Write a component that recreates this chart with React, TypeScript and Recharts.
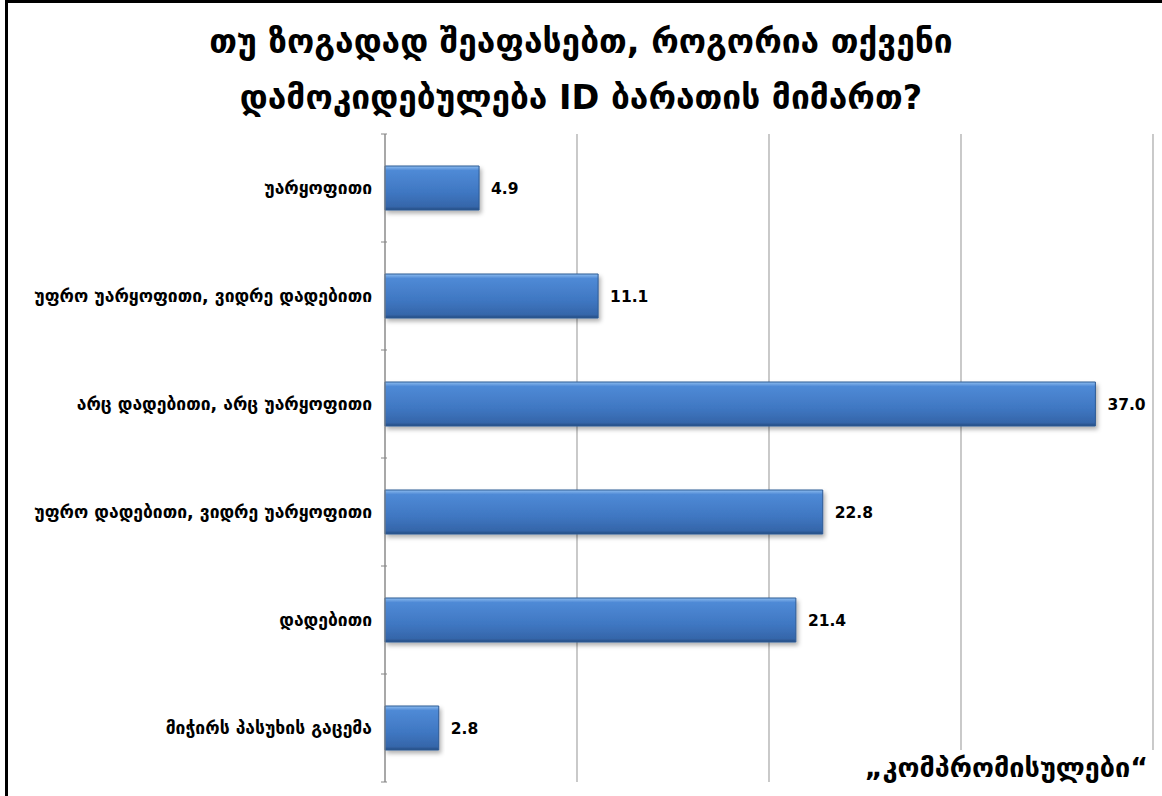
import { BarChart, Bar, XAxis, YAxis, CartesianGrid, LabelList } from 'recharts';

const categories = [
  'უარყოფითი',
  'უფრო უარყოფითი, ვიდრე დადებითი',
  'არც დადებითი, არც უარყოფითი',
  'უფრო დადებითი, ვიდრე უარყოფითი',
  'დადებითი',
  'მიჭირს პასუხის გაცემა',
];

const values = [4.9, 11.1, 37.0, 22.8, 21.4, 2.8];

const xTicks = [0, 10, 20, 30, 40];

const titleLines = [
  'თუ ზოგადად შეაფასებთ, როგორია თქვენი',
  'დამოკიდებულება ID ბარათის მიმართ?',
];

const footnote = '„კომპრომისულები“';

const FONT = '"DejaVu Sans", Verdana, sans-serif';

const chartData = categories.map((name, i) => ({ name, value: values[i] }));

// category label at band centre, tick marks on band boundaries
function CategoryTick(props: any) {
  const { x, y, payload, index } = props;
  const half = 54;
  return (
    <g>
      <line x1={x + 4} x2={x + 10} y1={y - half} y2={y - half} stroke="#868686" />
      {index === categories.length - 1 && (
        <line x1={x + 4} x2={x + 10} y1={y + half} y2={y + half} stroke="#868686" />
      )}
      <text
        x={x - 5}
        y={y}
        dy={6}
        textAnchor="end"
        fontFamily={FONT}
        fontWeight="bold"
        fontSize={17.5}
        fill="#000"
      >
        {payload.value}
      </text>
    </g>
  );
}

export default function App() {
  return (
    <div
      style={{
        position: 'absolute',
        left: 0,
        top: 0,
        width: 1162,
        height: 796,
        background: '#fff',
        overflow: 'hidden',
      }}
    >
      {/* frame */}
      <div
        style={{
          position: 'absolute',
          left: 5,
          top: 0,
          width: 1200,
          height: 900,
          borderLeft: '3px solid #000',
          borderTop: '3px solid #000',
        }}
      />
      <div
        style={{
          position: 'absolute',
          left: 0,
          top: 14,
          width: 1162,
          textAlign: 'center',
          fontFamily: FONT,
          fontWeight: 'bold',
          fontSize: 33.5,
          lineHeight: '56px',
          color: '#000',
        }}
      >
        {titleLines.map((t) => (
          <div key={t}>{t}</div>
        ))}
      </div>
      <div style={{ position: 'absolute', left: 0, top: 0 }}>
        <BarChart
          width={1162}
          height={796}
          data={chartData}
          layout="vertical"
          margin={{ top: 134, right: 9, bottom: 14, left: 0 }}
          barSize={44}
        >
          <defs>
            <linearGradient id="barGrad" x1="0" y1="0" x2="0" y2="1">
              <stop offset="0%" stopColor="#8dbcef" />
              <stop offset="10%" stopColor="#4f8ad6" />
              <stop offset="60%" stopColor="#3f77c2" />
              <stop offset="92%" stopColor="#3566aa" />
              <stop offset="100%" stopColor="#254d82" />
            </linearGradient>
            <filter id="barShadow" x="-5%" y="-20%" width="115%" height="150%">
              <feDropShadow dx="2" dy="3" stdDeviation="2" floodColor="#000" floodOpacity="0.3" />
            </filter>
          </defs>
          <CartesianGrid horizontal={false} stroke="#a6a6a6" strokeWidth={1.2} />
          <XAxis type="number" domain={[0, 40]} ticks={xTicks} hide />
          <YAxis
            type="category"
            dataKey="name"
            width={385}
            axisLine={{ stroke: '#868686' }}
            tickLine={false}
            tick={<CategoryTick />}
            interval={0}
          />
          <Bar
            dataKey="value"
            fill="url(#barGrad)"
            stroke="#2d5a94"
            strokeWidth={1}
            filter="url(#barShadow)"
            isAnimationActive={false}
          >
            <LabelList
              dataKey="value"
              position="right"
              offset={12}
              formatter={(v: any) => Number(v).toFixed(1)}
              style={{ fontFamily: FONT, fontWeight: 'bold', fontSize: 15.5, fill: '#000' }}
            />
          </Bar>
        </BarChart>
      </div>
      <div
        style={{
          position: 'absolute',
          right: 8,
          top: 750,
          padding: '2px 6px',
          background: '#fff',
          fontFamily: FONT,
          fontWeight: 'bold',
          fontSize: 27,
          color: '#000',
        }}
      >
        {footnote}
      </div>
    </div>
  );
}
